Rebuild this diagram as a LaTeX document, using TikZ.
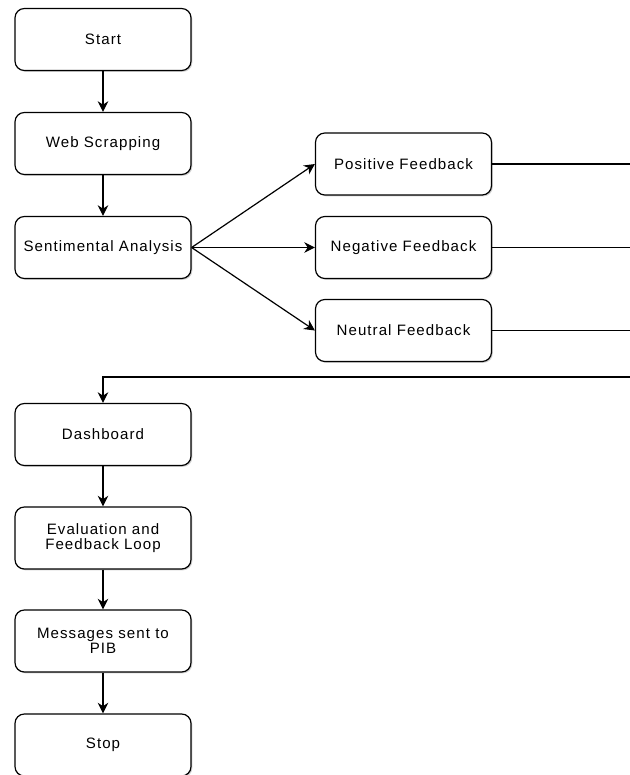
\documentclass[tikz,border=0pt]{standalone}
\usepackage{fontspec}
\setmainfont[LetterSpace=7]{Liberation Sans}
\usetikzlibrary{arrows.meta,shadows}

\tikzset{
  box/.style={draw, rounded corners=7pt, line width=0.9pt, fill=white,
    minimum width=132pt, minimum height=46.5pt, inner sep=2pt, align=center,
    font=\fontsize{11.3}{11.5}\selectfont,
    drop shadow={shadow xshift=1pt, shadow yshift=-1pt, opacity=0.3, fill=black!60}},
  flow/.style={-{Stealth[length=8pt,width=8pt]}, line width=0.9pt},
  link/.style={line width=0.9pt},
}

\begin{document}
\begin{tikzpicture}[x=0.75pt,y=-0.75pt]
  \useasboundingbox (0,0) rectangle (630,775);

  % main column
  \node[box] (start) at (103,39.5) {Start};
  \node[box] (web) at (103,143.5) {Web Scrapping};
  \node[box] (sent) at (103,247.5) {Sentimental Analysis};

  % feedback classes
  \node[box] (pos) at (403.5,164) {Positive Feedback};
  \node[box] (neg) at (403.5,247.5) {Negative Feedback};
  \node[box] (neu) at (403.5,330.5) {Neutral Feedback};

  \node[box] (dash) at (103,434.5) {Dashboard};
  \node[box] (eval) at (103,538) {Evaluation and\\Feedback Loop};
  \node[box] (msg) at (103,641) {Messages sent to\\PIB};
  \node[box] (stop) at (103,745) {Stop};

  % lines leaving the picture on the right
  \coordinate (posend) at (630,164);
  \coordinate (negend) at (630,247.5);
  \coordinate (neuend) at (630,330.5);
  \coordinate (loopin) at (630,377);

  \draw[flow] (start) -- (web);
  \draw[flow] (web) -- (sent);
  \draw[flow] (sent.east) -- (pos.west);
  \draw[flow] (sent.east) -- (neg.west);
  \draw[flow] (sent.east) -- (neu.west);
  \draw[link] (pos) -- (posend);
  \draw[link] (neg) -- (negend);
  \draw[link] (neu) -- (neuend);
  \draw[flow] (loopin) -| (dash);
  \draw[flow] (dash) -- (eval);
  \draw[flow] (eval) -- (msg);
  \draw[flow] (msg) -- (stop);
\end{tikzpicture}
\end{document}
